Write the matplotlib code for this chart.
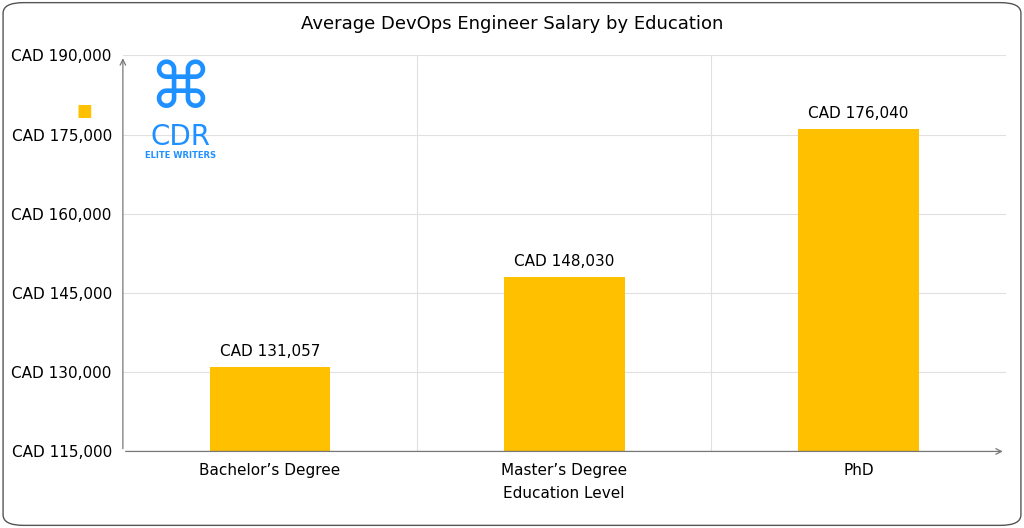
import matplotlib.pyplot as plt
from matplotlib.patches import FancyBboxPatch

categories = ["Bachelor\u2019s Degree", "Master\u2019s Degree", "PhD"]
salaries = [131057, 148030, 176040]
yticks = [115000, 130000, 145000, 160000, 175000, 190000]

fig = plt.figure(figsize=(10.24, 5.28), dpi=100)
fig.patches.append(FancyBboxPatch((0.003, 0.005), 0.994, 0.99, boxstyle="round,pad=0,rounding_size=0.02",
                                  transform=fig.transFigure, fill=False, edgecolor="#555555", linewidth=1))
ax = fig.add_axes([0.120, 0.145, 0.862, 0.75])
ax.bar(range(3), salaries, width=0.41, color="#FFC000", zorder=2)
for i, v in enumerate(salaries):
    ax.text(i, v + 1500, "CAD {:,}".format(v), ha="center", va="bottom", fontsize=11)
ax.set_xlim(-0.5, 2.5)
ax.set_ylim(115000, 190000)
ax.set_yticks(yticks)
ax.set_yticklabels(["CAD {:,}".format(t) for t in yticks], fontsize=11)
ax.set_xticks(range(3))
ax.set_xticklabels(categories, fontsize=11)
ax.set_xticks([0.5, 1.5], minor=True)
ax.grid(True, axis="y", color="#e0e0e0", zorder=0)
ax.grid(True, axis="x", which="minor", color="#e0e0e0", zorder=0)
ax.tick_params(length=0, which="both", pad=8)
for s in ["top", "right", "bottom", "left"]:
    ax.spines[s].set_visible(False)
ax.annotate("", xy=(1.0, 0), xytext=(0, 0), xycoords="axes fraction",
            arrowprops=dict(arrowstyle="->", color="#777777", lw=0.9))
ax.annotate("", xy=(0, 1.0), xytext=(0, 0), xycoords="axes fraction",
            arrowprops=dict(arrowstyle="->", color="#777777", lw=0.9))
ax.set_xlabel("Education Level", fontsize=11, labelpad=6)
fig.text(0.5, 0.955, "Average DevOps Engineer Salary by Education", ha="center", va="center", fontsize=13)
fig.text(0.082, 0.79, "\u25A0", color="#FFC000", fontsize=12, ha="center", va="center")
fig.text(0.176, 0.83, "\u2318", color="#1E90FF", fontsize=46, ha="center", va="center")
fig.text(0.176, 0.74, "CDR", color="#1E90FF", fontsize=20, ha="center", va="center")
fig.text(0.176, 0.705, "ELITE WRITERS", color="#1E90FF", fontsize=6, fontweight="bold", ha="center", va="center")
fig.savefig("out.png", dpi=100)
